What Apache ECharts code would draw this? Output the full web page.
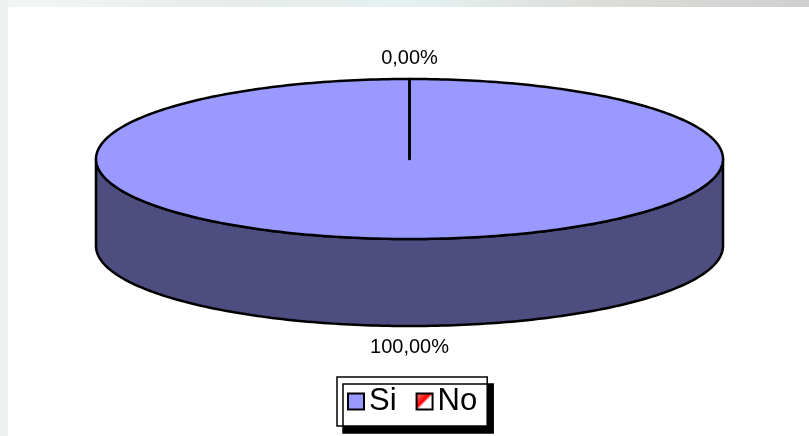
<!DOCTYPE html>
<html>
<head>
<meta charset="utf-8">
<script src="https://cdn.jsdelivr.net/npm/echarts@6/dist/echarts.min.js"></script>
<style>
html,body{margin:0;padding:0;background:#fff;}
#chart{width:809px;height:436px;}
</style>
</head>
<body>
<div id="chart"></div>
<script>
// ---- data ----
const categories = ['Si', 'No'];
const values = [100, 0];
const percentLabels = ['100,00%', '0,00%'];

// ---- style / layout ----
const topColors = ['#9999FF', '#FF0000'];
const sideColors = ['#4D4D80', '#800000'];
const CX = 409.5, CY = 159, RX = 313.5, RY = 80, DEPTH = 87, LABEL_OFF = 21;
const FONT = '"Liberation Sans", Arial, sans-serif';

const total = values.reduce((a, b) => a + b, 0);
function pt(t, dy) { return [CX + RX * Math.sin(t), CY - RY * Math.cos(t) + (dy || 0)]; }
function arcPts(a, b, dy) {
  const n = Math.max(2, Math.ceil((b - a) / (Math.PI / 180)));
  const out = [];
  for (let i = 0; i <= n; i++) out.push(pt(a + (b - a) * i / n, dy));
  return out;
}

function makeRender(idx) {
  return function (params, api) {
    let before = 0;
    for (let k = 0; k < idx; k++) before += values[k];
    const a = before / total * Math.PI * 2;
    const b = (before + api.value(0)) / total * Math.PI * 2;
    const children = [];
    // side (front visible part: pi/2 .. 3pi/2)
    const sa = Math.max(a, Math.PI / 2), sb = Math.min(b, Math.PI * 3 / 2);
    if (sb > sa) {
      const top = arcPts(sa, sb, 0);
      const bot = arcPts(sa, sb, DEPTH).reverse();
      children.push({
        type: 'polygon',
        shape: { points: top.concat(bot) },
        style: { fill: sideColors[idx], stroke: '#000', lineWidth: 2.5, lineJoin: 'round' }
      });
    }
    // top sector
    const pts = [[CX, CY]].concat(arcPts(a, b, 0));
    children.push({
      type: 'polygon',
      shape: { points: pts },
      style: { fill: topColors[idx], stroke: '#000', lineWidth: 2.5, lineJoin: 'round' }
    });
    // label
    const mid = (a + b) / 2;
    const lx = CX + (RX + LABEL_OFF) * Math.sin(mid);
    const ly = CY - (RY + LABEL_OFF) * Math.cos(mid) + (Math.cos(mid) < 0 ? DEPTH : 0);
    children.push({
      type: 'text',
      style: {
        text: percentLabels[idx], x: lx, y: ly, align: 'center', verticalAlign: 'middle',
        fill: '#000', font: '20px ' + FONT
      }
    });
    return { type: 'group', children: children };
  };
}

const noGradient = new echarts.graphic.LinearGradient(0, 0, 1, 1, [
  { offset: 0, color: '#FF9090' },
  { offset: 0.45, color: '#FF0000' },
  { offset: 0.55, color: '#FFFFFF' },
  { offset: 1, color: '#FFFFFF' }
]);

const series = categories.map((c, i) => ({
  type: 'custom',
  name: c,
  coordinateSystem: 'none',
  renderItem: makeRender(i),
  itemStyle: { color: i === 1 ? noGradient : topColors[i] },
  data: [[values[i]]],
  z: 2 + i,
  silent: true,
  animation: false
}));

const chart = echarts.init(document.getElementById('chart'), null, { renderer: 'canvas' });
chart.setOption({
  backgroundColor: '#ffffff',
  animation: false,
  graphic: [
    { type: 'rect', shape: { x: 0, y: 0, width: 809, height: 7 }, style: { fill: new echarts.graphic.LinearGradient(0, 0, 1, 0, [
      { offset: 0, color: '#f4f6f6' }, { offset: 0.3, color: '#e6ece9' }, { offset: 0.5, color: '#e4f2f2' },
      { offset: 0.75, color: '#dcdcd8' }, { offset: 1, color: '#cfcfcf' }]) }, z: -10 },
    { type: 'rect', shape: { x: 0, y: 0, width: 8, height: 436 }, style: { fill: '#eef0ef' }, z: -10 }
  ],
  legend: {
    data: [
      { name: 'Si', itemStyle: { color: topColors[0], borderColor: '#000', borderWidth: 2 } },
      { name: 'No', itemStyle: { color: noGradient, borderColor: '#000', borderWidth: 2 } }
    ],
    left: 337,
    top: 377,
    orient: 'horizontal',
    icon: 'rect',
    itemWidth: 16,
    itemHeight: 16,
    itemGap: 19,
    padding: [9, 10, 9, 10],
    backgroundColor: '#ffffff',
    borderColor: '#000',
    borderWidth: 1.5,
    shadowColor: '#000',
    shadowBlur: 0,
    shadowOffsetX: 6,
    shadowOffsetY: 7,
    selectedMode: false,
    textStyle: { fontSize: 31, color: '#000', fontFamily: FONT }
  },
  series: series
});
</script>
</body>
</html>
